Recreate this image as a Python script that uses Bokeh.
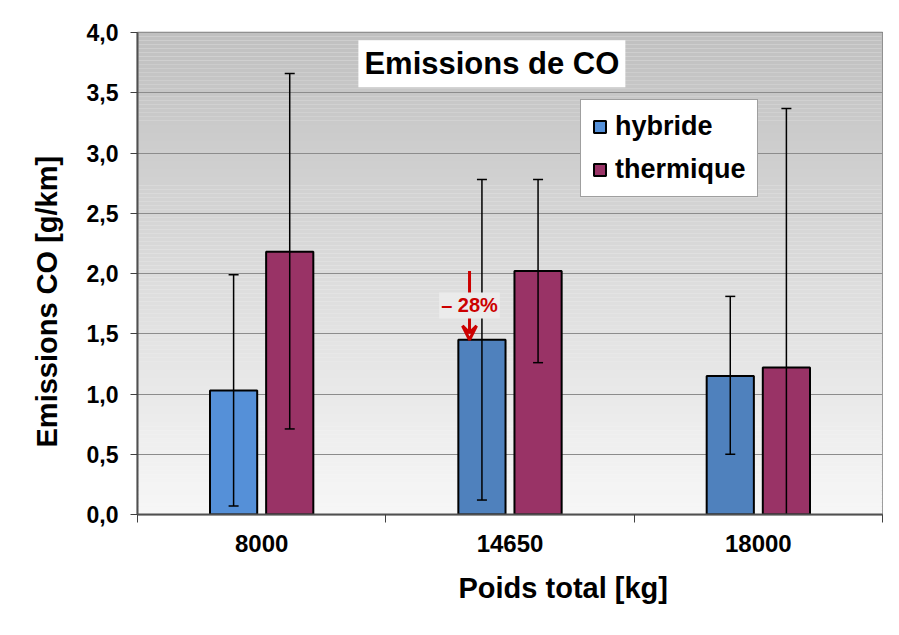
from bokeh.plotting import figure
from bokeh.models import (Range1d, FixedTicker, Label, Legend, LegendItem, Arrow,
                          VeeHead, Title)
from bokeh.embed import file_html
from bokeh.resources import INLINE

# ---- data ----
categories = ["8000", "14650", "18000"]
hybride = [1.03, 1.45, 1.15]
hybride_low = [0.07, 0.12, 0.50]
hybride_high = [1.99, 2.78, 1.81]
thermique = [2.18, 2.02, 1.22]
thermique_low = [0.71, 1.26, -0.94]
thermique_high = [3.66, 2.78, 3.37]
y_ticks = [0.0, 0.5, 1.0, 1.5, 2.0, 2.5, 3.0, 3.5, 4.0]

FONT = "Liberation Sans"
n = len(categories)
centers = [i + 0.5 for i in range(n)]
off = 0.113
bw = 0.19

p = figure(width=883, height=619, output_backend="svg", toolbar_location=None,
           x_range=Range1d(0, n), y_range=Range1d(0, 4),
           min_border_left=137, min_border_right=1, min_border_top=32,
           min_border_bottom=105)
p.background_fill_color = "#f5f5f5"
p.border_fill_color = "white"
p.outline_line_color = "#808080"
p.outline_line_width = 1.5

# gradient background (decoration)
ns = 120
ys = [4.0 * k / ns for k in range(ns + 1)]
cols = []
for k in range(ns):
    t = (k + 0.5) / ns
    c = int(round(247 - (247 - 192) * t))
    cols.append("#%02x%02x%02x" % (c, c, c))
g = p.quad(left=0, right=n, bottom=ys[:-1], top=ys[1:], fill_color=cols, line_color=None)
g.level = "image"

# grid
p.xgrid.visible = False
p.ygrid.ticker = FixedTicker(ticks=y_ticks)
p.ygrid.grid_line_color = "#8c8c8c"
p.ygrid.grid_line_width = 1

# bars
hx = [c - off for c in centers]
tx = [c + off for c in centers]
hcols = ["#5590D8", "#4F81BD", "#4F81BD"]
rh = p.vbar(x=hx, top=hybride, width=bw, bottom=0, fill_color=hcols,
            line_color="black", line_width=2)
rt = p.vbar(x=tx, top=thermique, width=bw, bottom=0, fill_color="#993366",
            line_color="black", line_width=2)

# error bars
for xs, lo, hi in [(hx, hybride_low, hybride_high), (tx, thermique_low, thermique_high)]:
    p.segment(x0=xs, x1=xs, y0=lo, y1=hi, line_color="black", line_width=1.5)
    p.scatter(x=xs + xs, y=lo + hi, marker="dash", size=10, line_color="black",
              line_width=1.5)

# axes
ya = p.yaxis[0]
ya.ticker = FixedTicker(ticks=y_ticks)
ya.major_label_overrides = {v: ("%.1f" % v).replace(".", ",") for v in y_ticks}
ya.major_label_text_font = FONT
ya.major_label_text_font_style = "bold"
ya.major_label_text_font_size = "23px"
ya.major_label_text_color = "black"
ya.major_tick_out = 7
ya.major_tick_in = 0
ya.minor_tick_line_color = None
ya.major_tick_line_color = "#404040"
ya.axis_line_color = "#505050"
ya.axis_line_width = 2
ya.major_label_standoff = 12

xa = p.xaxis[0]
xa.ticker = FixedTicker(ticks=centers, minor_ticks=list(range(n + 1)))
xa.major_label_overrides = {c: lab for c, lab in zip(centers, categories)}
xa.major_label_text_font = FONT
xa.major_label_text_font_style = "bold"
xa.major_label_text_font_size = "24px"
xa.major_label_text_color = "black"
xa.major_tick_line_color = None
xa.major_tick_out = 8
xa.minor_tick_out = 8
xa.minor_tick_in = 0
xa.minor_tick_line_color = "#404040"
xa.axis_line_color = "#505050"
xa.axis_line_width = 2
xa.major_label_standoff = 12

# axis titles
p.add_layout(Title(text="Poids total [kg]", align="left", offset=321,
                   text_font=FONT, text_font_style="bold", text_font_size="29px",
                   text_color="black", standoff=31), "below")
p.add_layout(Title(text="Emissions CO [g/km]", align="left", offset=67,
                   text_font=FONT, text_font_style="bold", text_font_size="29px",
                   text_color="black", standoff=41), "left")

# chart title box
p.add_layout(Label(x=1.427, y=3.74, text="Emissions de CO", text_align="center",
                   text_baseline="middle", text_font=FONT, text_font_style="bold",
                   text_font_size="31px", text_color="black",
                   background_fill_color="white", padding=6))

# legend
legend = Legend(items=[LegendItem(label="hybride", renderers=[rh]),
                       LegendItem(label="thermique", renderers=[rt])],
                location=(443, 317), label_text_font=FONT,
                label_text_font_style="bold", label_text_font_size="27px",
                label_text_color="black", glyph_width=15, glyph_height=15,
                label_standoff=8, spacing=12, padding=11, margin=0,
                border_line_color="#404040", border_line_width=1,
                background_fill_color="white", background_fill_alpha=1)
p.add_layout(legend)

# -28% annotation
ax = centers[1] - off - 0.05
pct = round((hybride[1] - thermique[1]) / thermique[1] * 100)
p.add_layout(Arrow(x_start=ax, y_start=thermique[1], x_end=ax, y_end=hybride[1],
                   line_color="#CC0000", line_width=3,
                   end=VeeHead(size=14, fill_color=None, line_color="#CC0000",
                               line_width=3)))
p.add_layout(Label(x=ax, y=(thermique[1] + hybride[1]) / 2, text="– %d%%" % abs(pct),
                   text_align="center", text_baseline="middle",
                   text_font=FONT, text_font_style="bold",
                   text_font_size="20px", text_color="#CC0000",
                   background_fill_color="#ebebeb", padding=2))

open("out.html", "w").write(file_html(p, INLINE))
